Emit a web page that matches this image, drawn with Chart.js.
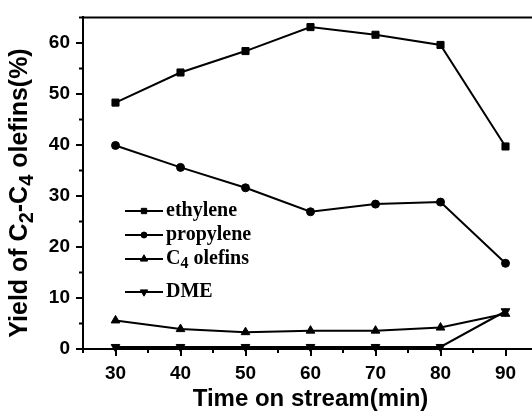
<!DOCTYPE html>
<html>
<head>
<meta charset="utf-8">
<script src="https://cdn.jsdelivr.net/npm/chart.js@4/dist/chart.umd.min.js"></script>
<style>
  html, body { margin: 0; padding: 0; background: #fff; overflow: hidden; }
  #wrap { position: absolute; left: 0; top: 0; width: 545px; height: 411px; }
</style>
</head>
<body>
<div id="wrap"><canvas id="chart" width="545" height="411"></canvas></div>
<script>
  "use strict";

  // data
  const minutes = [30, 40, 50, 60, 70, 80, 90];
  const ethylene = [48.3, 54.2, 58.4, 63.1, 61.6, 59.6, 39.7];
  const propylene = [39.9, 35.6, 31.6, 26.9, 28.4, 28.8, 16.8];
  const c4Olefins = [5.6, 3.9, 3.3, 3.6, 3.6, 4.2, 6.9];
  const dme = [0.4, 0.4, 0.4, 0.4, 0.4, 0.4, 7.4];

  const xTicks = [30, 40, 50, 60, 70, 80, 90];
  const yTicks = [0, 10, 20, 30, 40, 50, 60];
  const xMinor = [25, 35, 45, 55, 65, 75, 85, 95];
  const yMinor = [5, 15, 25, 35, 45, 55, 65];

  const SANS = "'Liberation Sans', Arial, sans-serif";
  const SERIF = "'Liberation Serif', 'Times New Roman', serif";

  function toPoints(values) {
    return minutes.map((m, i) => ({ x: m, y: values[i] }));
  }

  function series(label, values, style, radius, rotation) {
    return {
      label,
      data: toPoints(values),
      borderColor: "#000",
      backgroundColor: "#000",
      borderWidth: 2,
      pointStyle: style,
      pointRadius: radius,
      pointRotation: rotation || 0,
      pointBorderWidth: 1,
      pointHoverRadius: radius,
      tension: 0,
      clip: false,
    };
  }

  const legendItems = [
    { text: [["ethylene", 0]], style: "rect", radius: 3.8, rotation: 0, y: 211 },
    { text: [["propylene", 0]], style: "circle", radius: 3, rotation: 0, y: 235 },
    { text: [["C", 0], ["4", 1], [" olefins", 0]], style: "triangle", radius: 4.2, rotation: 0, y: 259 },
    { text: [["DME", 0]], style: "triangle", radius: 4.2, rotation: 180, y: 292 },
  ];

  const drawPoint = (Chart.helpers && Chart.helpers.drawPoint) || function () {};

  const framePlugin = {
    id: "frame",
    afterDraw(chart) {
      const { ctx, chartArea } = chart;
      const xs = chart.scales.x;
      const ys = chart.scales.y;
      ctx.save();
      ctx.strokeStyle = "#000";
      ctx.lineWidth = 2;
      // top and right border
      ctx.beginPath();
      ctx.moveTo(chartArea.left - 1, chartArea.top);
      ctx.lineTo(chartArea.right, chartArea.top);
      ctx.lineTo(chartArea.right, chartArea.bottom);
      ctx.stroke();
      // minor ticks
      ctx.beginPath();
      xMinor.forEach((v) => {
        const px = xs.getPixelForValue(v);
        ctx.moveTo(px, chartArea.bottom);
        ctx.lineTo(px, chartArea.bottom + 4);
      });
      yMinor.forEach((v) => {
        const py = ys.getPixelForValue(v);
        ctx.moveTo(chartArea.left, py);
        ctx.lineTo(chartArea.left - 4, py);
      });
      ctx.stroke();

      // y axis title with subscripts
      const parts = [["Yield of C", 0], ["2", 1], ["-C", 0], ["4", 1], [" olefins(%)", 0]];
      const mainFont = "bold 25px " + SANS;
      const subFont = "bold 20px " + SANS;
      let total = 0;
      parts.forEach((p) => {
        ctx.font = p[1] ? subFont : mainFont;
        total += ctx.measureText(p[0]).width;
      });
      ctx.translate(27, 193);
      ctx.rotate(-Math.PI / 2);
      ctx.fillStyle = "#000";
      ctx.textBaseline = "alphabetic";
      ctx.textAlign = "left";
      let cx = -total / 2;
      parts.forEach((p) => {
        ctx.font = p[1] ? subFont : mainFont;
        ctx.fillText(p[0], cx, p[1] ? 6 : 0);
        cx += ctx.measureText(p[0]).width;
      });
      ctx.restore();

      // legend
      ctx.save();
      ctx.fillStyle = "#000";
      ctx.strokeStyle = "#000";
      legendItems.forEach((item) => {
        ctx.lineWidth = 2;
        ctx.beginPath();
        ctx.moveTo(125, item.y);
        ctx.lineTo(163, item.y);
        ctx.stroke();
        ctx.lineWidth = 1;
        drawPoint(ctx, { pointStyle: item.style, radius: item.radius, rotation: item.rotation, borderWidth: 1 }, 144, item.y);
        ctx.fillStyle = "#000";
        let tx = 166;
        ctx.textBaseline = "middle";
        item.text.forEach((p) => {
          ctx.font = "bold " + (p[1] ? 16 : 20) + "px " + SERIF;
          ctx.fillText(p[0], tx, item.y + (p[1] ? 5 : 0));
          tx += ctx.measureText(p[0]).width;
        });
      });
      ctx.restore();
    },
  };

  new Chart(document.getElementById("chart"), {
    type: "line",
    data: {
      datasets: [
        series("ethylene", ethylene, "rect", 5, 0),
        series("propylene", propylene, "circle", 4, 0),
        series("C4 olefins", c4Olefins, "triangle", 5, 0),
        series("DME", dme, "triangle", 5, 180),
      ],
    },
    options: {
      responsive: false,
      animation: false,
      events: [],
      layout: { padding: { top: 14, right: 7, left: 0, bottom: 0 } },
      plugins: {
        legend: { display: false },
        tooltip: { enabled: false },
      },
      scales: {
        x: {
          type: "linear",
          min: 25,
          max: 95,
          afterBuildTicks: (scale) => { scale.ticks = xTicks.map((v) => ({ value: v })); },
          afterFit: (scale) => { scale.height = 62; },
          grid: { drawOnChartArea: false, drawTicks: true, tickLength: 7, color: "#000", lineWidth: 2 },
          border: { display: true, color: "#000", width: 2 },
          ticks: { color: "#000", font: { family: SANS, size: 19, weight: "bold" }, padding: 6, maxRotation: 0 },
          title: {
            display: true,
            text: "Time on stream(min)",
            color: "#000",
            font: { family: SANS, size: 24, weight: "bold", lineHeight: 1 },
            padding: { top: 0, bottom: 0 },
          },
        },
        y: {
          type: "linear",
          min: 0,
          max: 65,
          afterBuildTicks: (scale) => { scale.ticks = yTicks.map((v) => ({ value: v })); },
          afterFit: (scale) => { scale.width = 83; },
          grid: { drawOnChartArea: false, drawTicks: true, tickLength: 7, color: "#000", lineWidth: 2 },
          border: { display: true, color: "#000", width: 2 },
          ticks: { color: "#000", font: { family: SANS, size: 19, weight: "bold" }, padding: 6 },
        },
      },
    },
    plugins: [framePlugin],
  });
</script>
</body>
</html>
